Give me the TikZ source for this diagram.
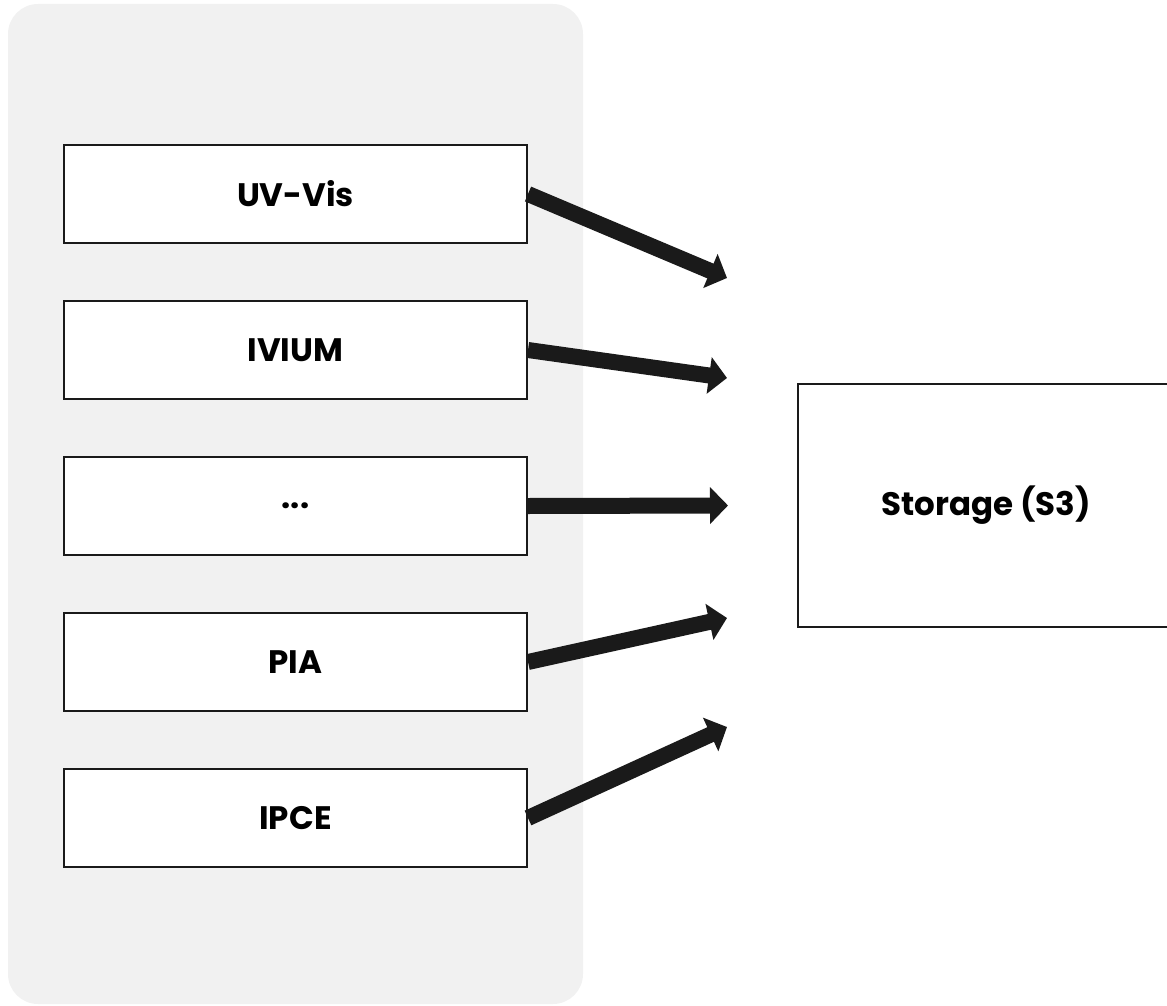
\documentclass[tikz,border=0pt]{standalone}
\usepackage{fontspec}
\setmainfont{Poppins}
\usetikzlibrary{arrows.meta,positioning}
\definecolor{panelgray}{HTML}{F1F1F1}
\definecolor{inkblack}{HTML}{1A1A1A}
\tikzset{
  inst/.style={draw=inkblack, line width=2pt, fill=white, minimum width=463pt, minimum height=98pt, font=\bfseries\fontsize{32.5}{38}\selectfont},
  feed/.style={-{Triangle[length=18pt,width=36pt]}, line width=16pt, inkblack},
}

\begin{document}
\begin{tikzpicture}[x=1pt,y=-1pt]
    \useasboundingbox (0,0) rectangle (1167,1006);
    \fill[panelgray, rounded corners=30pt] (8,4) rectangle (583,1004);
    \node[inst] (uvvis) at (295.5,194) {UV-Vis};
    \node[inst, below=56pt of uvvis] (ivium) {IVIUM};
    \node[inst, below=56pt of ivium] (more) {...};
    \node[inst, below=56pt of more] (pia) {PIA};
    \node[inst, below=56pt of pia] (ipce) {IPCE};
    \node[inst, minimum width=376pt, minimum height=243pt] (storage) at (986,505.5) {Storage (S3)};
    % free ends of the arrows
    \coordinate (t1) at (727,278);
    \coordinate (t2) at (727,378);
    \coordinate (t3) at (728,505.5);
    \coordinate (t4) at (727,618);
    \coordinate (t5) at (727,727);
    \draw[feed] (uvvis.east) -- (t1);
    \draw[feed] (ivium.east) -- (t2);
    \draw[feed] (more.east) -- (t3);
    \draw[feed] (pia.east) -- (t4);
    \draw[feed] (ipce.east) -- (t5);
\end{tikzpicture}
\end{document}
